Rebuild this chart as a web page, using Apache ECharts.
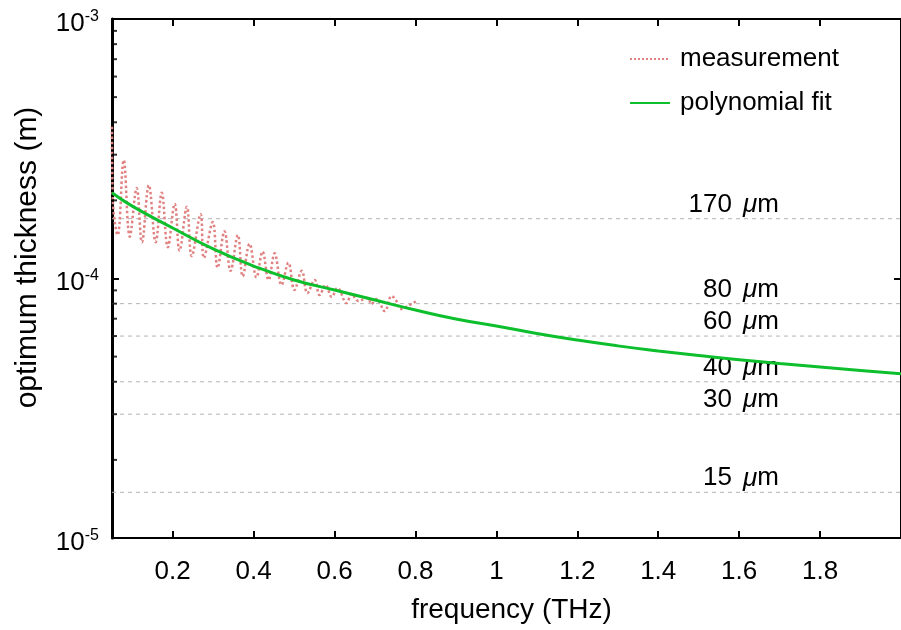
<!DOCTYPE html>
<html><head><meta charset="utf-8">
<script src="https://cdn.jsdelivr.net/npm/echarts@6/dist/echarts.min.js"></script>
<style>html,body{margin:0;padding:0;background:#fff}#c{width:901px;height:630px}</style>
</head><body><div id="c"></div>
<script>
// ---- data ----
const measFreq = [0.050,0.052,0.064,0.079,0.094,0.111,0.124,0.141,0.158,0.173,0.188,0.205,0.217,0.235,0.247,0.269,0.277,0.299,0.311,0.328,0.343,0.361,0.373,0.390,0.407,0.422,0.437,0.452,0.469,0.486,0.501,0.519,0.533,0.551,0.563,0.578,0.593,0.607,0.630,0.642,0.659,0.682,0.691,0.704,0.724,0.741,0.753,0.763,0.780,0.803];
const measThick = [3.84e-4,2.01e-4,1.47e-4,2.86e-4,1.45e-4,2.23e-4,1.38e-4,2.29e-4,1.38e-4,2.14e-4,1.32e-4,1.94e-4,1.28e-4,1.89e-4,1.22e-4,1.77e-4,1.20e-4,1.65e-4,1.10e-4,1.52e-4,1.07e-4,1.47e-4,1.02e-4,1.36e-4,1.01e-4,1.27e-4,9.87e-5,1.25e-4,9.44e-5,1.15e-4,9.03e-5,1.07e-4,8.79e-5,9.87e-5,8.64e-5,9.44e-5,8.49e-5,9.19e-5,8.04e-5,8.72e-5,8.19e-5,8.41e-5,7.97e-5,8.34e-5,7.49e-5,8.56e-5,8.19e-5,7.63e-5,7.83e-5,8.19e-5];
const fitFreq = [0.05,0.1,0.2,0.3,0.4,0.5,0.6,0.7,0.8,0.9,1.0,1.1,1.2,1.3,1.4,1.5,1.6,1.7,1.8,1.9,2.0];
const fitThick = [2.14e-4,1.90e-4,1.565e-4,1.30e-4,1.117e-4,9.87e-5,9.03e-5,8.26e-5,7.56e-5,6.98e-5,6.56e-5,6.14e-5,5.79e-5,5.50e-5,5.26e-5,5.05e-5,4.86e-5,4.70e-5,4.56e-5,4.42e-5,4.29e-5];
const refThick = [170e-6, 80e-6, 60e-6, 40e-6, 30e-6, 15e-6];
const refLabels = ['170', '80', '60', '40', '30', '15'];
const xTickValues = [0.2,0.4,0.6,0.8,1,1.2,1.4,1.6,1.8];
const yMinorTickValues = [2e-5,3e-5,4e-5,5e-5,6e-5,7e-5,8e-5,9e-5,2e-4,3e-4,4e-4,5e-4,6e-4,7e-4,8e-4,9e-4];
const seriesNames = ['measurement', 'polynomial fit'];

const FONT = '"Liberation Sans", Arial, sans-serif';
const xMin = 0.05, xMax = 2.0;
const chart = echarts.init(document.getElementById('c'), null, {renderer: 'canvas'});

const axisLineStyle = {color: '#000', width: 2};
const refSeries = refThick.map((v, i) => ({
  name: 'ref' + refLabels[i], type: 'line', xAxisIndex: 0, yAxisIndex: 0,
  data: [[xMin, v], {
    value: [xMax, v],
    label: {
      show: true, formatter: refLabels[i] + ' {mu|\u03bc}m',
      position: [-122, -1], align: 'right', verticalAlign: 'bottom',
      color: '#000', fontSize: 26, lineHeight: 26, fontFamily: FONT,
      rich: {mu: {fontStyle: 'italic', fontSize: 26, lineHeight: 26, color: '#000', fontFamily: FONT, padding: [0, 0, 0, 4]}}
    }
  }],
  symbol: 'circle', symbolSize: 0, showSymbol: true, silent: true,
  lineStyle: {color: '#b4b4b4', type: [4, 4], width: 1},
  itemStyle: {color: '#b4b4b4'},
  z: 1
}));

const option = {
  animation: false,
  backgroundColor: '#fff',
  textStyle: {fontFamily: FONT},
  grid: {left: 112, right: -1, top: 19, bottom: 92},
  legend: {
    orient: 'vertical', left: 624, top: 41,
    itemWidth: 40, itemHeight: 14, itemGap: 18,
    data: seriesNames,
    itemStyle: {opacity: 0},
    textStyle: {fontSize: 26, color: '#000', fontFamily: FONT, padding: [0, 0, 0, 5], lineHeight: 26}
  },
  xAxis: [{
    type: 'value', min: xMin, max: xMax, position: 'bottom',
    axisLine: {lineStyle: axisLineStyle},
    axisTick: {inside: true, length: 7, lineStyle: {color: '#000', width: 2}, customValues: xTickValues},
    axisLabel: {customValues: xTickValues, formatter: v => String(v), color: '#000', fontSize: 26, margin: 21, fontFamily: FONT},
    splitLine: {show: false},
    name: 'frequency (THz)', nameLocation: 'middle', nameGap: 58,
    nameTextStyle: {fontSize: 28, color: '#000', fontFamily: FONT, padding: [0, 0, 0, 10]}
  }, {
    type: 'value', min: xMin, max: xMax, position: 'top',
    axisLine: {lineStyle: axisLineStyle},
    axisTick: {inside: true, length: 7, lineStyle: {color: '#000', width: 2}, customValues: xTickValues},
    axisLabel: {show: false}, splitLine: {show: false}
  }],
  yAxis: [{
    type: 'log', logBase: 10, min: 1e-5, max: 1e-3, position: 'left',
    axisLine: {lineStyle: {color: '#000', width: 3}},
    axisTick: {inside: true, length: 7, lineStyle: {color: '#000', width: 2}},
    minorTick: {show: false},
    splitLine: {show: false},
    axisLabel: {
      margin: 13, padding: [5, 0, 0, 0],
      formatter: v => '{b|10}{s|' + Math.round(Math.log10(v)) + '}',
      rich: {
        b: {fontSize: 26, color: '#000', fontFamily: FONT, lineHeight: 26, padding: [4, 0, 0, 0]},
        s: {fontSize: 16, color: '#000', fontFamily: FONT, verticalAlign: 'top', lineHeight: 16}
      }
    },
    name: 'optimum thickness (m)', nameLocation: 'middle', nameGap: 69,
    nameTextStyle: {fontSize: 30, color: '#000', fontFamily: FONT, padding: [0, 0, 0, 42]}
  }, {
    type: 'log', logBase: 10, min: 1e-5, max: 1e-3, position: 'right',
    axisLine: {lineStyle: {color: '#000', width: 2}},
    axisTick: {inside: true, length: 7, lineStyle: {color: '#000', width: 2}},
    axisLabel: {show: false}, splitLine: {show: false}
  }],
  series: [{
    name: seriesNames[0], type: 'line', xAxisIndex: 0, yAxisIndex: 0,
    data: measFreq.map((f, i) => [f, measThick[i]]),
    symbol: 'none', smooth: 0.4,
    lineStyle: {color: '#e08282', width: 2.5, type: 'dotted'},
    itemStyle: {color: '#e08282'}, z: 3
  }, {
    name: seriesNames[1], type: 'line', xAxisIndex: 0, yAxisIndex: 0,
    data: fitFreq.map((f, i) => [f, fitThick[i]]),
    symbol: 'none', smooth: true,
    lineStyle: {color: '#0dbf2c', width: 3},
    itemStyle: {color: '#0dbf2c'}, z: 4
  }, {
    name: 'minorTicks', type: 'scatter', xAxisIndex: 0, yAxisIndex: 0,
    data: yMinorTickValues.map(v => [xMin, v]),
    symbol: 'rect', symbolSize: [5, 2], symbolOffset: [2.5, 0],
    itemStyle: {color: '#000'}, silent: true, clip: false, z: 5
  }].concat(refSeries)
};
chart.setOption(option);
</script>
</body></html>
